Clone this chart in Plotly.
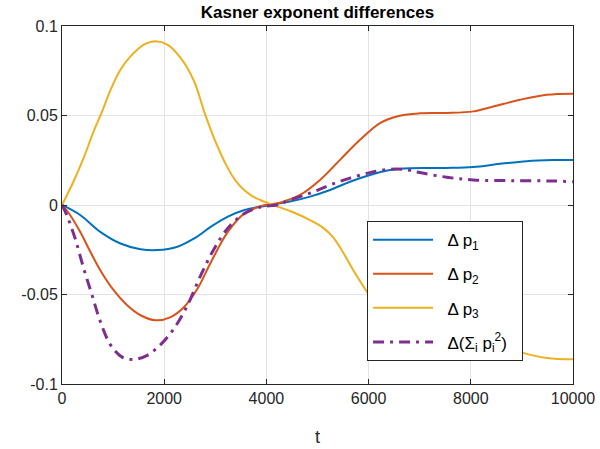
import plotly.graph_objects as go

t_p1 = [0, 355, 749, 1143, 1537, 1865, 2259, 2587, 2916, 3245, 3572, 4000, 4462, 4853, 5245, 5636, 6027, 6419, 6810, 7528, 8049, 8571, 9094, 9615, 10000]
p1 = [0, -0.0056, -0.015, -0.0215, -0.0247, -0.0252, -0.0233, -0.0187, -0.0121, -0.0065, -0.0028, -0.0004, 0.0019, 0.0047, 0.0084, 0.013, 0.0168, 0.0196, 0.0206, 0.0207, 0.0212, 0.023, 0.0245, 0.0251, 0.0252]

t_p2 = [0, 158, 355, 552, 749, 1011, 1275, 1537, 1832, 2128, 2390, 2653, 2916, 3245, 3572, 3900, 4266, 4658, 5049, 5440, 5832, 6223, 6614, 7006, 7528, 8049, 8441, 8963, 9485, 10000]
p2 = [0, -0.0056, -0.015, -0.026, -0.0364, -0.0476, -0.056, -0.0616, -0.0644, -0.0626, -0.057, -0.0467, -0.0318, -0.015, -0.0047, -0.0006, 0.0013, 0.0056, 0.014, 0.0252, 0.0364, 0.0458, 0.0499, 0.0512, 0.0514, 0.0523, 0.055, 0.0588, 0.0616, 0.0622]

t_p3 = [0, 223, 420, 617, 781, 946, 1143, 1340, 1602, 1832, 2062, 2325, 2587, 2784, 2981, 3245, 3400, 3560, 3720, 3880, 4050, 4250, 4500, 4853, 5100, 5303, 5500, 5700, 5994, 6223, 6614, 7006, 7528, 8049, 8441, 8963, 9485, 10000]
p3 = [0, 0.013, 0.026, 0.041, 0.052, 0.064, 0.0756, 0.083, 0.0896, 0.0915, 0.0896, 0.082, 0.069, 0.052, 0.037, 0.0206, 0.0135, 0.0085, 0.005, 0.0028, 0.0009, -0.0012, -0.0038, -0.0084, -0.0125, -0.018, -0.0265, -0.0364, -0.0495, -0.058, -0.067, -0.0715, -0.0725, -0.0735, -0.0772, -0.0822, -0.0855, -0.0862]

t_sq = [0, 92, 256, 420, 584, 749, 946, 1176, 1405, 1668, 1930, 2193, 2456, 2719, 2981, 3245, 3572, 3900, 4200, 4462, 4853, 5245, 5636, 6027, 6354, 6680, 7006, 7528, 8049, 8832, 9615, 10000]
sq = [0, -0.0056, -0.0186, -0.035, -0.050, -0.065, -0.078, -0.085, -0.0863, -0.084, -0.078, -0.069, -0.056, -0.039, -0.0243, -0.013, -0.0047, -0.001, 0, 0.0028, 0.0066, 0.0112, 0.015, 0.0181, 0.0198, 0.0199, 0.0181, 0.0155, 0.014, 0.0136, 0.0134, 0.013]

x_ticks = [0, 2000, 4000, 6000, 8000, 10000]
y_ticks = [-0.1, -0.05, 0, 0.05, 0.1]
y_tick_labels = ["-0.1", "-0.05", "0", "0.05", "0.1"]
names = ["Δ p<sub>1</sub>", "Δ p<sub>2</sub>", "Δ p<sub>3</sub>", "Δ(Σ<sub>i</sub> p<sub>i</sub><sup>2</sup>)"]

FONT = "Liberation Sans, Arial, sans-serif"
PAD_L = "&nbsp;&nbsp;"
PAD_R = "&nbsp;&nbsp;"

fig = go.Figure()
fig.add_trace(go.Scatter(x=t_p1, y=p1, mode="lines", name=PAD_L + names[0] + PAD_R, legendgroup="a",
                         line=dict(color="#0072BD", width=2, shape="spline")))
fig.add_trace(go.Scatter(x=t_p2, y=p2, mode="lines", name=PAD_L + names[1] + PAD_R, legendgroup="b",
                         line=dict(color="#D95319", width=2, shape="spline")))
fig.add_trace(go.Scatter(x=t_p3, y=p3, mode="lines", name=PAD_L + names[2] + PAD_R, legendgroup="c",
                         line=dict(color="#EDB120", width=2, shape="spline")))
fig.add_trace(go.Scatter(x=t_sq, y=sq, mode="lines", name=PAD_L + names[3] + PAD_R, legendgroup="d",
                         line=dict(color="#7E2F8E", width=3, shape="spline", dash="11px,6px,3px,6px")))

axis_common = dict(showline=True, linecolor="#262626", linewidth=1, mirror="ticks",
                   ticks="inside", ticklen=5, tickcolor="#262626", automargin=False,
                   showgrid=True, gridcolor="#E3E3E3", gridwidth=1, zeroline=False,
                   tickfont=dict(family=FONT, size=16, color="#262626"))

fig.update_layout(
    width=600, height=449,
    margin=dict(l=62, r=27, t=26, b=65),
    paper_bgcolor="white", plot_bgcolor="white",
    title=dict(text="<b>Kasner exponent differences</b>", x=0.5, xanchor="center",
               xref="paper", y=0.973, yanchor="middle",
               font=dict(family=FONT, size=17, color="black")),
    xaxis=dict(range=[0, 10000], tickvals=x_ticks, ticktext=[str(v) for v in x_ticks],
               title=dict(text="t", font=dict(family=FONT, size=18, color="#262626"), standoff=24),
               **axis_common),
    yaxis=dict(range=[-0.1, 0.1], tickvals=y_ticks, ticktext=y_tick_labels, **axis_common),
    legend=dict(x=0.597, y=0.455, xanchor="left", yanchor="top",
                bgcolor="white", bordercolor="#262626", borderwidth=1,
                font=dict(family=FONT, size=17, color="black"),
                tracegroupgap=9, itemwidth=60),
    showlegend=True,
)

fig.write_html("out.html", config={"displayModeBar": False},
               post_script="document.body.style.margin='0';")
